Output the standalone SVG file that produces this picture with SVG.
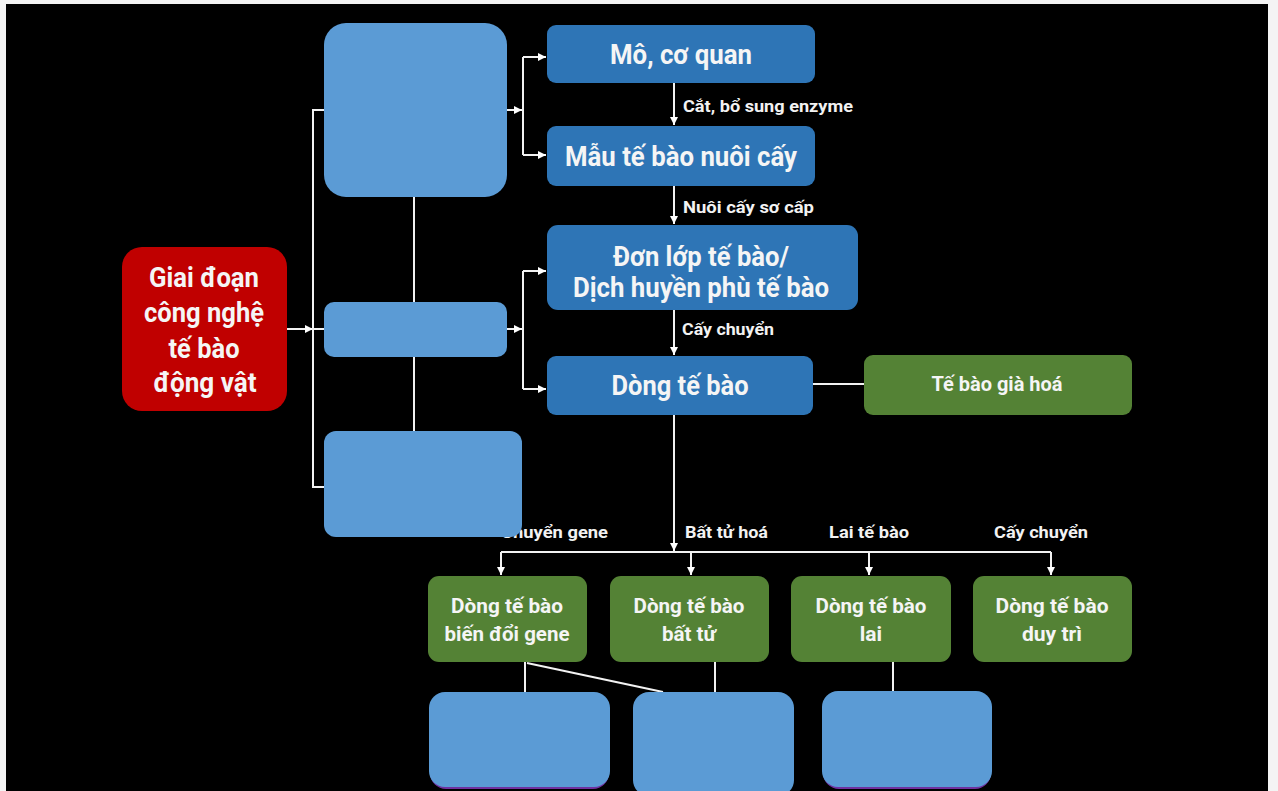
<svg xmlns="http://www.w3.org/2000/svg" width="1278" height="791" viewBox="0 0 1278 791">
<defs>
<marker id="arr" viewBox="0 0 8 8" refX="8" refY="4" markerWidth="8" markerHeight="8" markerUnits="userSpaceOnUse" orient="auto">
<path d="M0,0 L8,4 L0,8 z" fill="#FFFFFF"/>
</marker>
<style>
.ln{stroke:#F2F2F2;stroke-width:2;fill:none}
.lb{fill:#F2F2F2;font-family:Roboto,"Liberation Sans",sans-serif;font-weight:700;font-size:17px}
.t{fill:#F5F5F5;font-family:Roboto,"Liberation Sans",sans-serif;font-weight:700;text-anchor:middle}
.big{font-size:27px}
.med{font-size:21px}
.dk{fill:#2E75B6}
.lt{fill:#5B9BD5}
.gr{fill:#548235}
.rd{fill:#C00000}
</style>
</defs>
<rect x="0" y="0" width="1278" height="791" fill="#F4F4F4"/>
<rect x="6" y="4" width="1262" height="787" fill="#000000"/>

<g id="connectors">
<line class="ln" x1="287" y1="329" x2="313" y2="329" marker-end="url(#arr)"/>
<line class="ln" x1="313" y1="329" x2="324" y2="329"/>
<polyline class="ln" points="324,110 313,110 313,487 324,487"/>
<line class="ln" x1="414" y1="197" x2="414" y2="431"/>
<line class="ln" x1="507" y1="110" x2="522" y2="110" marker-end="url(#arr)"/>
<line class="ln" x1="523" y1="57" x2="523" y2="155"/>
<line class="ln" x1="523" y1="57" x2="546" y2="57" marker-end="url(#arr)"/>
<line class="ln" x1="523" y1="155" x2="546" y2="155" marker-end="url(#arr)"/>
<line class="ln" x1="507" y1="329" x2="522" y2="329" marker-end="url(#arr)"/>
<line class="ln" x1="523" y1="271" x2="523" y2="389"/>
<line class="ln" x1="523" y1="271" x2="546" y2="271" marker-end="url(#arr)"/>
<line class="ln" x1="523" y1="389" x2="546" y2="389" marker-end="url(#arr)"/>
<line class="ln" x1="674" y1="83" x2="674" y2="125" marker-end="url(#arr)"/>
<line class="ln" x1="674" y1="186" x2="674" y2="224" marker-end="url(#arr)"/>
<line class="ln" x1="674" y1="310" x2="674" y2="355" marker-end="url(#arr)"/>
<line class="ln" x1="674" y1="415" x2="674" y2="551" marker-end="url(#arr)"/>
<line class="ln" x1="813" y1="384" x2="864" y2="384"/>
<line class="ln" x1="501" y1="552" x2="1051" y2="552"/>
<line class="ln" x1="501" y1="552" x2="501" y2="575" marker-end="url(#arr)"/>
<line class="ln" x1="691" y1="552" x2="691" y2="575" marker-end="url(#arr)"/>
<line class="ln" x1="869" y1="552" x2="869" y2="575" marker-end="url(#arr)"/>
<line class="ln" x1="1051" y1="552" x2="1051" y2="575" marker-end="url(#arr)"/>
<line class="ln" x1="525" y1="662" x2="525" y2="692"/>
<line class="ln" x1="527" y1="663" x2="663" y2="692"/>
<line class="ln" x1="715" y1="662" x2="715" y2="692"/>
<line class="ln" x1="893" y1="662" x2="893" y2="692"/>
<text class="lb" x="683" y="112" textLength="170" lengthAdjust="spacingAndGlyphs">Cắt, bổ sung enzyme</text>
<text class="lb" x="683" y="213" textLength="131" lengthAdjust="spacingAndGlyphs">Nuôi cấy sơ cấp</text>
<text class="lb" x="682" y="335" textLength="92" lengthAdjust="spacingAndGlyphs">Cấy chuyển</text>
<text class="lb" x="501" y="538" textLength="107" lengthAdjust="spacingAndGlyphs">Chuyển gene</text>
<text class="lb" x="685" y="538" textLength="83" lengthAdjust="spacingAndGlyphs">Bất tử hoá</text>
<text class="lb" x="829" y="538" textLength="80" lengthAdjust="spacingAndGlyphs">Lai tế bào</text>
<text class="lb" x="994" y="538" textLength="94" lengthAdjust="spacingAndGlyphs">Cấy chuyển</text>
</g>

<g id="n-giai-doan">
<rect class="rd" x="122" y="247" width="165" height="164" rx="20"/>
<text class="t big" x="204" y="287" textLength="110" lengthAdjust="spacingAndGlyphs">Giai đoạn</text>
<text class="t big" x="204" y="322" textLength="120" lengthAdjust="spacingAndGlyphs">công nghệ</text>
<text class="t big" x="204" y="358" textLength="71" lengthAdjust="spacingAndGlyphs">tế bào</text>
<text class="t big" x="205" y="392" textLength="103" lengthAdjust="spacingAndGlyphs">động vật</text>
</g>

<g id="n-box-a"><rect class="lt" x="324" y="23" width="183" height="174" rx="22"/></g>
<g id="n-box-b"><rect class="lt" x="324" y="302" width="183" height="55" rx="10"/></g>
<g id="n-box-c"><rect class="lt" x="324" y="431" width="198" height="106" rx="12"/></g>

<g id="n-mo"><rect class="dk" x="547" y="25" width="268" height="58" rx="9"/>
<text class="t big" x="681" y="64" textLength="142" lengthAdjust="spacingAndGlyphs">Mô, cơ quan</text></g>
<g id="n-mau"><rect class="dk" x="547" y="126" width="268" height="60" rx="9"/>
<text class="t big" x="681" y="166" textLength="232" lengthAdjust="spacingAndGlyphs">Mẫu tế bào nuôi cấy</text></g>
<g id="n-don-lop"><rect class="dk" x="547" y="225" width="311" height="85" rx="11"/>
<text class="t big" x="701" y="266" textLength="176" lengthAdjust="spacingAndGlyphs">Đơn lớp tế bào/</text>
<text class="t big" x="701" y="297" textLength="256" lengthAdjust="spacingAndGlyphs">Dịch huyền phù tế bào</text></g>
<g id="n-dong"><rect class="dk" x="547" y="356" width="266" height="59" rx="9"/>
<text class="t big" x="680" y="395" textLength="137" lengthAdjust="spacingAndGlyphs">Dòng tế bào</text></g>
<g id="n-gia-hoa"><rect class="gr" x="864" y="355" width="268" height="60" rx="9"/>
<text class="t" style="font-size:20px" x="997" y="391" textLength="131" lengthAdjust="spacingAndGlyphs">Tế bào già hoá</text></g>

<g id="n-bien-doi"><rect class="gr" x="428" y="576" width="159" height="86" rx="11"/>
<text class="t med" x="507" y="613" textLength="112" lengthAdjust="spacingAndGlyphs">Dòng tế bào</text>
<text class="t med" x="507" y="641" textLength="125" lengthAdjust="spacingAndGlyphs">biến đổi gene</text></g>
<g id="n-bat-tu"><rect class="gr" x="610" y="576" width="159" height="86" rx="11"/>
<text class="t med" x="689" y="613" textLength="111" lengthAdjust="spacingAndGlyphs">Dòng tế bào</text>
<text class="t med" x="689" y="641" textLength="54" lengthAdjust="spacingAndGlyphs">bất tử</text></g>
<g id="n-lai"><rect class="gr" x="791" y="576" width="160" height="86" rx="11"/>
<text class="t med" x="871" y="613" textLength="111" lengthAdjust="spacingAndGlyphs">Dòng tế bào</text>
<text class="t med" x="871" y="641">lai</text></g>
<g id="n-duy-tri"><rect class="gr" x="973" y="576" width="159" height="86" rx="11"/>
<text class="t med" x="1052" y="613" textLength="113" lengthAdjust="spacingAndGlyphs">Dòng tế bào</text>
<text class="t med" x="1052" y="641" textLength="60" lengthAdjust="spacingAndGlyphs">duy trì</text></g>

<g id="n-bottom-1"><rect x="430" y="694" width="179" height="95" rx="16" fill="#7030A0"/>
<rect class="lt" x="429" y="692" width="181" height="95" rx="16"/></g>
<g id="n-bottom-2"><rect class="lt" x="633" y="692" width="161" height="104" rx="16"/></g>
<g id="n-bottom-3"><rect x="823" y="694" width="168" height="95" rx="16" fill="#7030A0"/>
<rect class="lt" x="822" y="691" width="170" height="96" rx="16"/></g>
</svg>
